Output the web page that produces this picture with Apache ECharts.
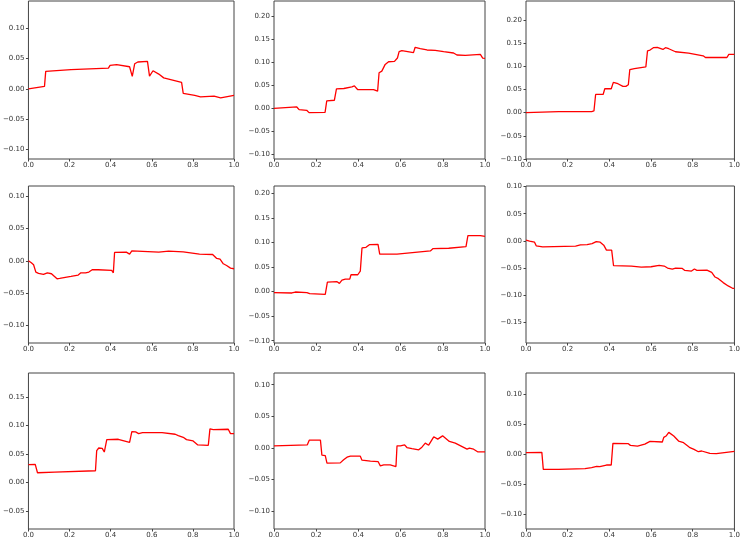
<!DOCTYPE html>
<html>
<head>
    <meta charset="utf-8">
    <title>panels</title>
    <script src="https://cdn.jsdelivr.net/npm/echarts@6/dist/echarts.min.js"></script>
    <style>
        html, body { margin: 0; padding: 0; background: #fff; }
        #chart { width: 743px; height: 540px; }
    </style>
</head>
<body>
<div id="chart"></div>
<script type="text/javascript">
    // curves, [x, y]
    var curve1 = [[0,0],[0.078,0.0039],[0.084,0.0287],[0.207,0.0315],[0.389,0.0342],[0.397,0.0387],[0.429,0.0398],[0.492,0.0364],
        [0.505,0.0204],[0.517,0.0414],[0.532,0.0442],[0.579,0.0453],[0.589,0.021],[0.597,0.018],[0.606,0.0298],[0.634,0.0243],
        [0.658,0.018],[0.745,0.0105],[0.753,-0.0077],[0.809,-0.011],[0.837,-0.0133],[0.84,-0.0116],[0.903,-0.0122],
        [0.935,-0.0149],[1.0,-0.011]];
    var curve2 = [[0,0],[0.108,0.0029],[0.119,-0.0029],[0.155,-0.0043],[0.166,-0.0094],[0.242,-0.0087],[0.25,0.016],
        [0.286,0.0174],[0.296,0.042],[0.331,0.0428],[0.34,0.0457],[0.369,0.0464],[0.381,0.0486],[0.388,0.0464],[0.396,0.0406],
        [0.44,0.0406],[0.448,0.0428],[0.472,0.0406],[0.491,0.037],[0.498,0.0768],[0.511,0.0804],[0.527,0.0949],[0.543,0.1007],
        [0.571,0.1014],[0.578,0.1043],[0.585,0.1087],[0.593,0.1225],[0.606,0.1246],[0.661,0.1203],[0.669,0.1319],[0.693,0.129],
        [0.725,0.1261],[0.764,0.1254],[0.804,0.1225],[0.851,0.1196],[0.867,0.1152],[0.907,0.1145],[0.978,0.1167],[0.989,0.1087],
        [1.0,0.108]];
    var curve3 = [[0,0],[0.157,0.0022],[0.315,0.0022],[0.326,0.0036],[0.334,0.0391],[0.37,0.0391],[0.378,0.0514],[0.409,0.0514],
        [0.419,0.0652],[0.441,0.0623],[0.465,0.0565],[0.479,0.0565],[0.491,0.0601],[0.498,0.0928],[0.52,0.0949],[0.575,0.0986],
        [0.583,0.1333],[0.595,0.1348],[0.611,0.1399],[0.63,0.1406],[0.657,0.1362],[0.669,0.1399],[0.685,0.1377],[0.717,0.1312],
        [0.78,0.1283],[0.787,0.1246],[0.85,0.1225],[0.861,0.1188],[0.964,0.1188],[0.973,0.1254],[1.0,0.1254]];
    var curve4 = [[0,0],[0.014,-0.0031],[0.025,-0.0062],[0.03,-0.0083],[0.036,-0.0176],[0.049,-0.0197],[0.073,-0.0212],
        [0.081,-0.0233],[0.092,-0.0187],[0.112,-0.0202],[0.139,-0.028],[0.152,-0.0275],[0.207,-0.0244],[0.242,-0.0223],
        [0.255,-0.0187],[0.278,-0.0187],[0.294,-0.0176],[0.31,-0.014],[0.321,-0.014],[0.329,-0.0171],[0.339,-0.014],
        [0.405,-0.015],[0.413,-0.0187],[0.419,0.013],[0.476,0.0135],[0.492,0.0104],[0.503,0.0155],[0.634,0.0135],
        [0.682,0.015],[0.753,0.014],[0.832,0.0104],[0.896,0.0098],[0.916,0.0036],[0.932,0.0026],[0.948,-0.0047],
        [0.964,-0.0073],[0.983,-0.0114],[1.0,-0.0124]];
    var curve5 = [[0,-0.002],[0.085,-0.0027],[0.101,-0.0007],[0.156,-0.002],[0.169,-0.0041],[0.243,-0.0054],[0.253,0.0196],
        [0.299,0.0203],[0.31,0.0169],[0.322,0.0236],[0.338,0.0257],[0.359,0.0257],[0.365,0.0345],[0.397,0.0345],[0.409,0.0419],
        [0.417,0.0892],[0.436,0.0905],[0.452,0.0959],[0.493,0.0966],[0.501,0.0764],[0.583,0.0764],[0.591,0.0784],[0.741,0.0831],
        [0.754,0.0878],[0.828,0.0885],[0.836,0.0919],[0.91,0.0919],[0.919,0.1142],[0.978,0.1142],[1.0,0.1128]];
    var curve6 = [[0,0.0012],[0.017,-0.0006],[0.041,-0.0024],[0.049,-0.0091],[0.08,-0.011],[0.238,-0.0098],[0.261,-0.0073],
        [0.293,-0.0067],[0.317,-0.0049],[0.337,-0.0012],[0.356,-0.0024],[0.373,-0.0079],[0.386,-0.0171],[0.411,-0.0171],
        [0.42,-0.0457],[0.506,-0.0463],[0.553,-0.0482],[0.6,-0.0476],[0.639,-0.0451],[0.663,-0.0463],[0.679,-0.05],
        [0.702,-0.0518],[0.718,-0.05],[0.75,-0.0506],[0.762,-0.0543],[0.794,-0.0555],[0.808,-0.0518],[0.82,-0.0543],
        [0.868,-0.0537],[0.891,-0.0579],[0.907,-0.0665],[0.923,-0.0695],[0.946,-0.0768],[0.97,-0.0829],[0.991,-0.0872],
        [1.0,-0.0872]];
    var curve7 = [[0,0.0312],[0.033,0.0318],[0.038,0.0312],[0.044,0.0171],[0.128,0.0182],[0.326,0.0206],[0.332,0.0559],
        [0.342,0.0606],[0.359,0.06],[0.369,0.0535],[0.373,0.0535],[0.381,0.0753],[0.437,0.0759],[0.492,0.0706],[0.498,0.07],
        [0.503,0.0894],[0.521,0.0888],[0.536,0.0859],[0.555,0.0876],[0.65,0.0876],[0.714,0.0847],[0.729,0.0824],[0.753,0.0794],
        [0.769,0.0753],[0.801,0.0729],[0.824,0.0659],[0.875,0.0653],[0.883,0.0941],[0.899,0.0929],[0.972,0.0935],[0.983,0.0859],
        [1.0,0.0859]];
    var curve8 = [[0,0.0032],[0.158,0.0048],[0.167,0.0122],[0.22,0.0122],[0.227,-0.0116],[0.243,-0.0122],[0.251,-0.0243],
        [0.314,-0.0238],[0.33,-0.019],[0.346,-0.0148],[0.362,-0.0132],[0.409,-0.0132],[0.417,-0.0196],[0.457,-0.0212],
        [0.493,-0.0217],[0.504,-0.0286],[0.52,-0.027],[0.551,-0.027],[0.578,-0.0296],[0.583,0.0032],[0.599,0.0032],
        [0.619,0.0048],[0.63,0.0005],[0.654,-0.0011],[0.686,-0.0032],[0.701,0.0011],[0.717,0.0074],[0.733,0.0042],
        [0.757,0.0175],[0.776,0.0138],[0.799,0.019],[0.831,0.0101],[0.859,0.0074],[0.915,-0.0021],[0.926,-0.0005],
        [0.946,-0.0021],[0.965,-0.0063],[1.0,-0.0063]];
    var curve9 = [[0,0.0028],[0.076,0.0033],[0.083,-0.025],[0.157,-0.025],[0.283,-0.0239],[0.315,-0.0222],[0.339,-0.02],
        [0.354,-0.0206],[0.386,-0.0178],[0.409,-0.0178],[0.417,0.0183],[0.491,0.0178],[0.501,0.015],[0.535,0.0139],
        [0.57,0.0172],[0.595,0.0217],[0.654,0.0206],[0.661,0.0283],[0.672,0.0306],[0.685,0.0367],[0.709,0.0306],
        [0.732,0.0222],[0.756,0.0194],[0.784,0.0117],[0.806,0.0083],[0.827,0.0044],[0.843,0.0056],[0.882,0.0017],
        [0.913,0.0011],[0.921,0.0033],[1.0,0.005]];

    var curves = [curve1, curve2, curve3, curve4, curve5, curve6, curve7, curve8, curve9];
    // y limits of each panel
    var yLow  = [-0.116, -0.1096, -0.10, -0.128, -0.1047, -0.1879, -0.0817, -0.1286, -0.1246];
    var yHigh = [0.145, 0.232, 0.2406, 0.1164, 0.2155, 0.101, 0.1923, 0.1186, 0.1358];
    var xTicks = [0, 0.2, 0.4, 0.6, 0.8, 1.0];

    var colLeft = [23, 274, 526];
    var colWidth = [211, 211, 212];
    var rowTop = [1, 186, 373];
    var rowHeight = [158, 157, 156];

    var fontName = 'DejaVu Sans';
    var frameColor = '#444';

    function yTicksFor(lo, hi) {
        var out = [];
        for (var k = Math.ceil(lo / 0.05 - 1e-6); k * 0.05 <= hi + 1e-6; k++) {
            out.push(Math.round(k * 5) / 100);
        }
        return out;
    }
    function fmt(v, d) {
        var s = Math.abs(v).toFixed(d);
        return (v < -1e-9 ? '\u2212' : '') + s;
    }

    var grids = [], xAxes = [], yAxes = [], series = [];
    for (var i = 0; i < 9; i++) {
        var r = Math.floor(i / 3), c = i % 3;
        grids.push({
            left: colLeft[c], top: rowTop[r], width: colWidth[c], height: rowHeight[r],
            show: true, borderColor: frameColor, borderWidth: 1, backgroundColor: 'transparent'
        });
        xAxes.push({
            type: 'value', gridIndex: i, min: 0, max: 1, position: 'bottom',
            splitLine: {show: false},
            axisLine: {show: false, onZero: false},
            axisTick: {show: true, length: 2.5, lineStyle: {color: frameColor}, customValues: xTicks},
            axisLabel: {
                fontFamily: fontName, fontSize: 7, color: '#333', margin: 3,
                customValues: xTicks,
                formatter: function (v) { return v.toFixed(1); }
            }
        });
        var yt = yTicksFor(yLow[i], yHigh[i]);
        yAxes.push({
            type: 'value', gridIndex: i, min: yLow[i], max: yHigh[i], position: 'left',
            splitLine: {show: false},
            axisLine: {show: false, onZero: false},
            axisTick: {show: true, length: 2.5, lineStyle: {color: frameColor}, customValues: yt},
            axisLabel: {
                fontFamily: fontName, fontSize: 7, color: '#333', margin: 4,
                customValues: yt,
                formatter: function (v) { return fmt(v, 2); }
            }
        });
        series.push({
            type: 'line', xAxisIndex: i, yAxisIndex: i,
            data: curves[i], showSymbol: false, symbol: 'none',
            lineStyle: {color: '#ff0000', width: 1.3}
        });
    }

    var myChart = echarts.init(document.getElementById('chart'), null, {renderer: 'canvas'});
    myChart.setOption({
        animation: false,
        grid: grids,
        xAxis: xAxes,
        yAxis: yAxes,
        series: series
    });
</script>
</body>
</html>
